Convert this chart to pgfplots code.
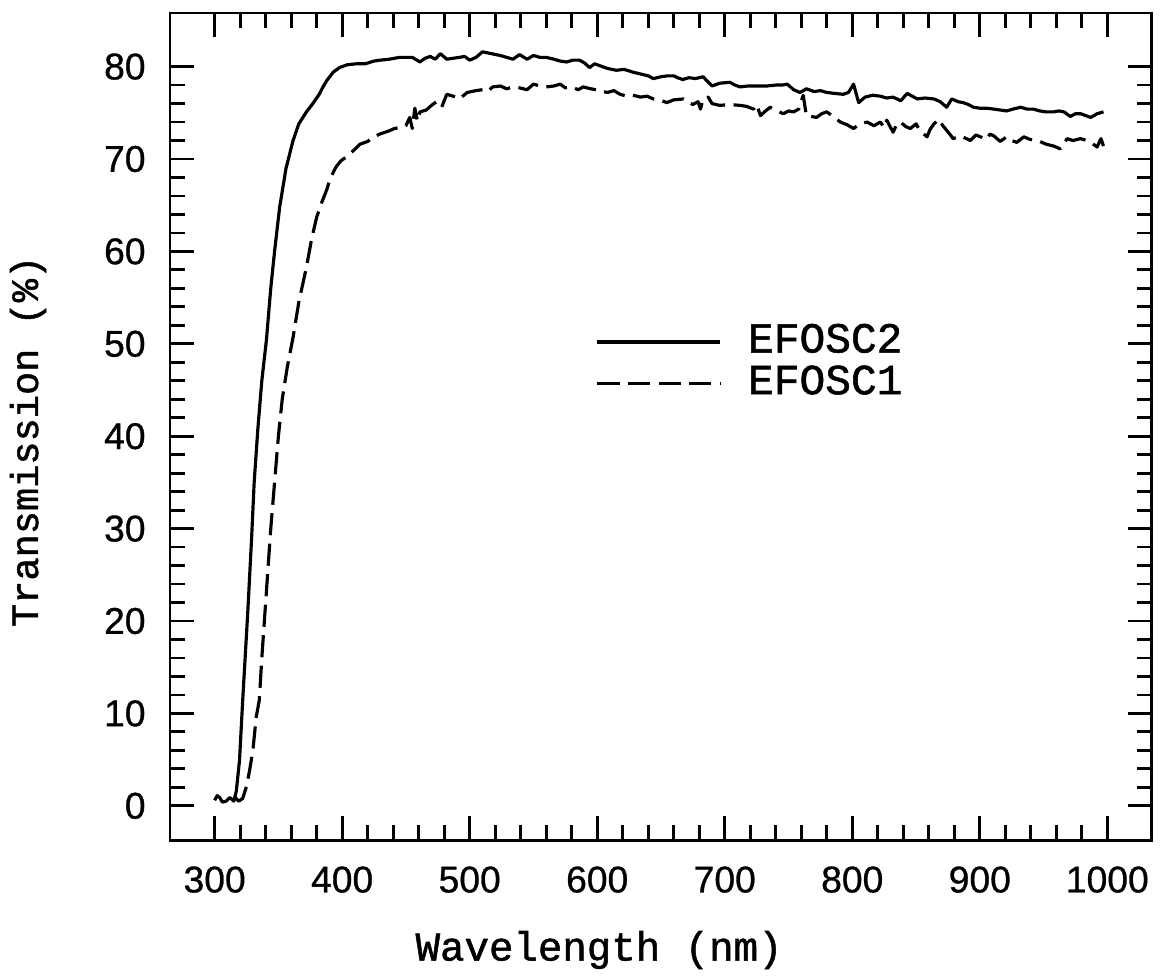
\documentclass[border=0pt]{standalone}
\usepackage{fontspec}
\setmainfont{Liberation Mono}[RawFeature={embolden=1.3}]
\newfontfamily\tickfont{Liberation Sans}[RawFeature={embolden=0.8}]
\usepackage{pgfplots}
\pgfplotsset{compat=1.18}

% EFOSC2 (solid) and EFOSC1 (dashed)
\pgfplotstableread{
x y
300 0.6
302 1.1
304 0.9
306 0.4
309 0.5
312 0.9
315 0.5
317 1.6
319.5 4.9
322 11.4
326 21
329 29
331 35
334 41
337 46
340.6 50.4
344 56
347 60
351 64.8
356 69
361.5 72
366 73.8
372 75.1
377 76
382 77.0
385 77.8
388 78.5
393 79.4
398 79.9
404 80.2
411 80.3
418 80.3
425 80.6
430 80.7
437 80.8
445 81.0
450 81.0
455 81.0
461 80.5
465 80.9
469 81.1
473 80.8
477 81.4
482 80.8
487 80.9
492 81.0
496 81.1
500 80.7
505 81.0
510 81.6
517 81.4
524 81.2
529 81.0
534 80.8
539 81.3
545 80.8
550 81.2
555 81.0
560 81.0
566 80.8
571 80.6
576 80.5
581 80.7
586 80.7
590 80.4
594 79.9
598 80.3
602 80.1
608 79.8
615 79.6
621 79.7
628 79.4
634 79.2
640 79.0
644 78.7
650 78.9
655 79.0
660 79.0
663 78.8
667 78.6
672 78.8
677 78.7
683 78.9
690 77.9
696 78.2
704 78.3
708 78.0
712 77.8
718 77.9
725 77.9
733 77.9
740 78.0
745 78.0
749 78.1
754 77.5
759 77.2
764 77.6
770 77.3
775 77.4
780 77.2
786 77.1
793 77.0
797 77.2
801 78.1
805 76.1
810 76.7
816 76.9
822 76.8
827 76.6
832 76.7
838 76.3
843 77.1
847 76.8
851 76.5
857 76.6
864 76.5
869 76.2
874 75.6
878 76.5
883 76.2
887 76.1
891 75.9
895 75.6
900 75.5
905 75.5
911 75.4
916 75.3
921 75.2
926 75.4
932 75.6
937 75.4
942 75.4
947 75.2
952 75.1
958 75.1
962 75.2
966 75.1
971 74.6
975 74.9
979 74.9
983 74.7
987 74.5
992 74.9
997 75.1
}\efosctwo

\pgfplotstableread{
x y
316 0.9
319 0.5
322 0.8
325 2.1
327.5 3.9
330 6.0
332.6 9.6
335 11.4
337 16
339 20
341.5 25
344 30
347 35
350 40
353 44
357 47.5
361.5 50.7
366 54.5
372 58.3
376 61.3
380 63.7
384 65.3
387.7 66.6
391 68
395 69.1
399 69.8
403 70.2
408 70.8
414 71.6
420 71.9
425 72.4
429.5 72.7
436 73.0
441 73.3
445 73.4
450 73.6
453 74.5
455 73.3
457 75.5
459 74.1
461 75.1
466 75.3
470 75.8
474 76.2
478 75.6
482 77.0
487 76.8
492 76.5
498 77.2
505 77.4
510 77.5
514 77.3
518 77.8
524 77.9
529 77.6
534 77.8
539 77.7
545 77.5
550 78.1
555 77.9
560 77.8
566 77.9
571 78.1
575 77.7
580 77.8
585 77.5
589 77.8
595 77.6
602 77.4
608 77.2
613 77.4
618 77.0
623 76.8
628 76.9
634 76.7
639 76.8
644 76.5
649 76.4
654.5 76.1
660 76.4
667.6 76.5
672 76.1
675 75.9
679 76.2
681 75.4
683 76.5
687 76.7
690 76.0
696 75.8
704 75.9
712 75.8
717 75.7
722.5 75.4
725 75.9
728 74.7
732 75.2
735.6 75.6
741 75.2
746 74.9
750 75.2
754 75.1
758 75.4
761.5 76.9
764 74.7
768 74.6
772 74.5
776 74.9
780 75.1
785 74.6
790.6 74.0
796 73.7
801 73.3
806 73.8
811.6 74.0
817 73.6
822 74.0
825 73.4
827 74.2
832 72.9
835 73.8
837.7 74.0
842 73.5
845.6 73.3
850 73.8
853 73.1
858.6 72.4
861 73.2
864 73.8
868 74.3
871 73.6
874 73.1
877 72.6
879 72.2
884.6 72.5
888 72.3
892.6 72.0
897 72.6
900.5 72.4
905 72.1
908 72.7
911 72.5
916 71.9
921 72.4
925 72.0
929 71.8
934.5 72.4
938 72.2
942 72.0
947 71.9
952 71.6
958 71.4
963 71.1
966 71.7
968.5 72.2
973 72.0
979 72.2
984 72.0
988 71.7
992 71.3
995 72.2
997 71.4
}\efoscone

\begin{document}
\begin{tikzpicture}
\useasboundingbox (-1.70,-1.38) rectangle (9.99,8.40);
\begin{axis}[at={(0,0)},anchor=south west,
  width=9.82cm,height=8.27cm,scale only axis,
  xmin=265,xmax=1035,ymin=-3.7,ymax=85.8,
  xtick={300,400,...,1000},ytick={0,10,...,80},
  minor x tick num=4,minor y tick num=4,
  xtick pos=both,ytick pos=both,tick align=inside,
  major tick length=0.24cm,minor tick length=0.15cm,
  axis line style={line width=0.85pt},
  every tick/.style={black,line width=0.8pt},
  ticklabel style={font=\tickfont\fontsize{10.6}{12}\selectfont},
  /pgf/number format/assume math mode=true,
  /pgf/number format/1000 sep={},
  xticklabel style={yshift=-0.14cm},
  yticklabel style={xshift=-0.12cm},
  xlabel={Wavelength (nm)},ylabel={Transmission (\%)},
  xlabel style={font=\fontsize{11.6}{13}\selectfont,
    at={(axis description cs:0.437,-0.133)},anchor=center},
  ylabel style={font=\fontsize{11}{13}\selectfont,
    at={(axis description cs:-0.1446,0.482)},anchor=center},
  legend image code/.code={\draw[#1] (0cm,0cm) -- (1.23cm,0cm);},
  legend cell align=left,
  legend style={draw=none,fill=none,inner sep=0pt,
    at={(rel axis cs:0.433,0.577)},anchor=west,
    font=\fontsize{12.2}{14}\selectfont,
    nodes={inner sep=0pt,text height=8.5pt,text depth=2.5pt},
    row sep=0.03cm,column sep=0.26cm},
  ]
  \addplot[black,line width=0.9pt,line join=round] table[x=x,y=y] {\efosctwo};
  \addplot[black,line width=0.9pt,line join=round,dash pattern=on 6.3pt off 2.4pt] table[x=x,y=y] {\efoscone};
  \legend{EFOSC2,EFOSC1}
\end{axis}
\end{tikzpicture}
\end{document}
